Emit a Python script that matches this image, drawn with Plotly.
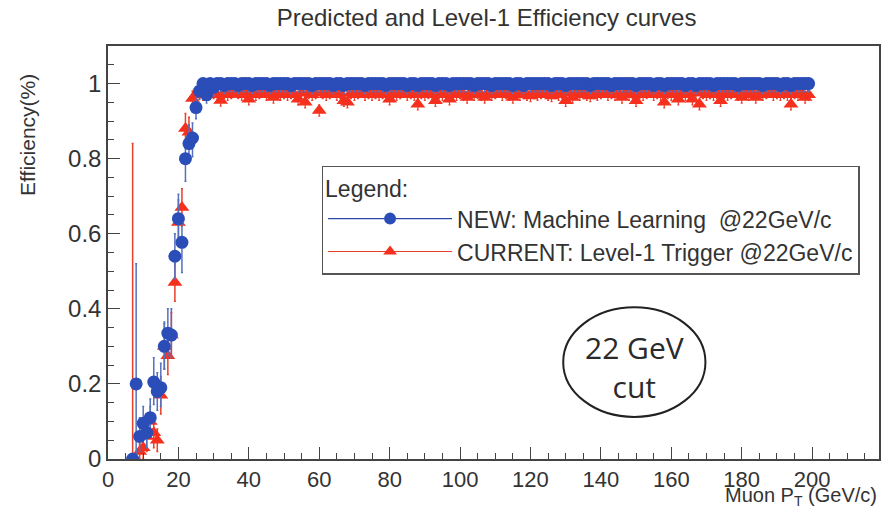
import plotly.graph_objects as go

# ---------------- data ----------------
PT = [
    7, 8, 9, 10, 11, 12, 13, 14, 15, 16, 17, 18, 19, 20, 21, 22, 23, 24, 25,
    26, 27, 28, 29, 30, 31, 32, 33, 34, 35,
    36, 37, 38, 39, 40, 41, 42, 43, 44, 45,
    46, 47, 48, 49, 50, 51, 52, 53, 54, 55,
    56, 57, 58, 59, 60, 61, 62, 63, 64, 65,
    66, 67, 68, 69, 70, 71, 72, 73, 74, 75,
    76, 77, 78, 79, 80, 81, 82, 83, 84, 85,
    86, 87, 88, 89, 90, 91, 92, 93, 94, 95,
    96, 97, 98, 99, 100, 101, 102, 103, 104, 105,
    106, 107, 108, 109, 110, 111, 112, 113, 114, 115,
    116, 117, 118, 119, 120, 121, 122, 123, 124, 125,
    126, 127, 128, 129, 130, 131, 132, 133, 134, 135,
    136, 137, 138, 139, 140, 141, 142, 143, 144, 145,
    146, 147, 148, 149, 150, 151, 152, 153, 154, 155,
    156, 157, 158, 159, 160, 161, 162, 163, 164, 165,
    166, 167, 168, 169, 170, 171, 172, 173, 174, 175,
    176, 177, 178, 179, 180, 181, 182, 183, 184, 185,
    186, 187, 188, 189, 190, 191, 192, 193, 194, 195,
    196, 197, 198, 199,
]

# NEW: Machine Learning efficiency
EFF_ML = [
    0.0, 0.20, 0.06, 0.095, 0.07, 0.11, 0.205, 0.18, 0.19, 0.30, 0.335, 0.33,
    0.54, 0.64, 0.577, 0.80, 0.84, 0.855, 0.936,
    0.98, 1.0, 0.97, 1.0, 0.99, 1.0, 1.0, 0.995, 1.0, 1.0,
    1.0, 0.995, 1.0, 1.0, 1.0, 0.995, 1.0, 1.0, 1.0, 1.0,
    0.995, 1.0, 1.0, 1.0, 1.0, 1.0, 0.995, 1.0, 1.0, 1.0,
    1.0, 1.0, 0.995, 1.0, 1.0, 1.0, 1.0, 1.0, 0.995, 1.0,
    1.0, 0.995, 1.0, 1.0, 1.0, 1.0, 1.0, 0.995, 1.0, 1.0,
    1.0, 1.0, 1.0, 0.995, 1.0, 1.0, 1.0, 1.0, 1.0, 0.995,
    1.0, 1.0, 0.995, 1.0, 1.0, 1.0, 1.0, 0.995, 1.0, 1.0,
    1.0, 0.995, 1.0, 1.0, 1.0, 1.0, 1.0, 1.0, 0.995, 1.0,
    1.0, 1.0, 1.0, 0.995, 1.0, 1.0, 1.0, 1.0, 1.0, 0.995,
    1.0, 1.0, 0.995, 1.0, 1.0, 1.0, 1.0, 1.0, 1.0, 1.0,
    0.995, 1.0, 1.0, 1.0, 0.995, 1.0, 1.0, 1.0, 1.0, 1.0,
    1.0, 0.995, 1.0, 1.0, 1.0, 1.0, 1.0, 0.995, 1.0, 1.0,
    1.0, 1.0, 1.0, 1.0, 0.995, 1.0, 1.0, 1.0, 1.0, 0.995,
    1.0, 1.0, 0.995, 1.0, 1.0, 1.0, 1.0, 1.0, 0.995, 1.0,
    1.0, 0.995, 1.0, 1.0, 1.0, 1.0, 0.995, 1.0, 1.0, 1.0,
    1.0, 1.0, 1.0, 0.995, 1.0, 1.0, 1.0, 1.0, 1.0, 1.0,
    0.995, 1.0, 1.0, 1.0, 1.0, 0.995, 1.0, 1.0, 0.995, 1.0,
    1.0, 1.0, 1.0, 1.0,
]

# CURRENT: Level-1 Trigger efficiency
EFF_L1 = [
    0.0, None, 0.02, 0.03, 0.06, 0.10, 0.07, 0.05, 0.17, 0.30, 0.275, 0.33,
    0.47, 0.63, 0.67, 0.88, 0.87, 0.96, 0.97,
    0.975, 0.97, 0.975, 0.98, 0.975, 0.97, 0.955, 0.975, 0.97, 0.975,
    0.98, 0.975, 0.97, 0.975, 0.958, 0.975, 0.97, 0.975, 0.98, 0.97,
    0.975, 0.963, 0.975, 0.97, 0.975, 0.97, 0.975, 0.97, 0.958, 0.975,
    0.95, 0.975, 0.97, 0.975, 0.928, 0.975, 0.97, 0.975, 0.98, 0.97,
    0.975, 0.954, 0.95, 0.975, 0.97, 0.975, 0.98, 0.97, 0.975, 0.97,
    0.975, 0.97, 0.975, 0.97, 0.958, 0.975, 0.97, 0.975, 0.98, 0.97,
    0.975, 0.97, 0.945, 0.975, 0.97, 0.975, 0.97, 0.954, 0.975, 0.97,
    0.975, 0.958, 0.975, 0.97, 0.975, 0.97, 0.963, 0.975, 0.97, 0.975,
    0.97, 0.963, 0.975, 0.97, 0.975, 0.98, 0.97, 0.975, 0.97, 0.963,
    0.975, 0.97, 0.975, 0.97, 0.967, 0.975, 0.97, 0.975, 0.98, 0.97,
    0.967, 0.975, 0.97, 0.975, 0.954, 0.975, 0.963, 0.975, 0.97, 0.975,
    0.97, 0.967, 0.975, 0.97, 0.975, 0.98, 0.97, 0.975, 0.97, 0.975,
    0.963, 0.975, 0.97, 0.975, 0.954, 0.975, 0.97, 0.975, 0.98, 0.97,
    0.975, 0.97, 0.95, 0.975, 0.97, 0.975, 0.958, 0.975, 0.97, 0.975,
    0.958, 0.975, 0.945, 0.975, 0.97, 0.975, 0.97, 0.975, 0.954, 0.975,
    0.97, 0.975, 0.98, 0.97, 0.963, 0.975, 0.97, 0.975, 0.963, 0.975,
    0.97, 0.975, 0.98, 0.97, 0.975, 0.97, 0.975, 0.97, 0.945, 0.975,
    0.97, 0.975, 0.963, 0.97,
]

# error bars in the turn-on region (first 19 bins)
ML_ERR_UP = [0.0, 0.32, 0.05, 0.045, 0.05, 0.05, 0.065, 0.05, 0.065, 0.065,
             0.065, 0.07, 0.06, 0.065, 0.07, 0.05, 0.05, 0.04, 0.03]
ML_ERR_DN = [0.0, 0.20, 0.04, 0.04, 0.04, 0.04, 0.06, 0.05, 0.05, 0.06,
             0.06, 0.06, 0.06, 0.06, 0.08, 0.06, 0.05, 0.05, 0.03]
L1_ERR_UP = [0.84, 0.0, 0.02, 0.03, 0.04, 0.04, 0.04, 0.03, 0.05, 0.06,
             0.05, 0.06, 0.05, 0.06, 0.05, 0.04, 0.04, 0.02, 0.02]
L1_ERR_DN = [0.0, 0.0, 0.02, 0.03, 0.04, 0.04, 0.04, 0.03, 0.05, 0.06,
             0.05, 0.06, 0.05, 0.06, 0.05, 0.04, 0.04, 0.03, 0.02]
N_TURNON = 19

X_TICKS = [0, 20, 40, 60, 80, 100, 120, 140, 160, 180, 200]
Y_TICKS = [0, 0.2, 0.4, 0.6, 0.8, 1]

NAME_ML = "NEW: Machine Learning \u00a0@22GeV/c"
NAME_L1 = "CURRENT: Level-1 Trigger @22GeV/c"

# ---------------- style ----------------
FONT = "Liberation Sans, Arial, Helvetica, sans-serif"
TXT = "#333333"
BLUE = "#2A4DB8"
BLUE_ERR = "#5571BE"
RED = "#F5301E"
RED_ERR = "#E8402A"

fig = go.Figure()

# Level-1 (red triangles)
fig.add_trace(go.Scatter(
    x=PT[:N_TURNON], y=EFF_L1[:N_TURNON], mode="markers", showlegend=False,
    marker=dict(symbol="triangle-up", size=13, color=RED),
    error_y=dict(type="data", symmetric=False, array=L1_ERR_UP,
                 arrayminus=L1_ERR_DN, color=RED_ERR, thickness=1.5, width=1),
))
fig.add_trace(go.Scatter(
    x=PT[N_TURNON:], y=EFF_L1[N_TURNON:], mode="markers", showlegend=False,
    marker=dict(symbol="triangle-up", size=13, color=RED),
    error_y=dict(type="constant", value=0.015, color=RED_ERR,
                 thickness=1.2, width=1),
))
# Machine learning (blue circles)
fig.add_trace(go.Scatter(
    x=PT[:N_TURNON], y=EFF_ML[:N_TURNON], mode="markers", showlegend=False,
    marker=dict(symbol="circle", size=13, color=BLUE),
    error_y=dict(type="data", symmetric=False, array=ML_ERR_UP,
                 arrayminus=ML_ERR_DN, color=BLUE_ERR, thickness=1.5, width=1),
))
fig.add_trace(go.Scatter(
    x=PT[N_TURNON:], y=EFF_ML[N_TURNON:], mode="markers", showlegend=False,
    marker=dict(symbol="circle", size=13, color=BLUE),
    error_y=dict(type="constant", symmetric=False, value=0.0, valueminus=0.022,
                 color=BLUE_ERR, thickness=1.2, width=1),
))

# legend entries
fig.add_trace(go.Scatter(
    x=[None], y=[None], mode="lines+markers", name=NAME_ML,
    line=dict(color="#2C48A8", width=1.2),
    marker=dict(symbol="circle", size=12, color=BLUE),
))
fig.add_trace(go.Scatter(
    x=[None], y=[None], mode="lines+markers", name=NAME_L1,
    line=dict(color=RED_ERR, width=1.2),
    marker=dict(symbol="triangle-up", size=12, color=RED),
))

# ---------------- layout ----------------
axis_common = dict(
    showline=True, mirror=True, linecolor="#444444", linewidth=1.5,
    showgrid=False, zeroline=False, ticks="inside", tickcolor="#444444",
    tickwidth=1.2, ticklen=12,
)

fig.update_layout(
    width=883, height=507,
    margin=dict(l=108, r=2, t=46, b=48),
    paper_bgcolor="white", plot_bgcolor="white",
    font=dict(family=FONT, color=TXT, size=20),
    title=dict(text="Predicted and Level-1 Efficiency curves",
               x=0.551, xanchor="center", y=0.966, yanchor="middle",
               font=dict(family=FONT, size=24, color=TXT)),
    xaxis=dict(range=[0, 219], tickvals=X_TICKS,
               tickfont=dict(family=FONT, size=22, color=TXT),
               minor=dict(dtick=5, tick0=0, ticks="inside", ticklen=6,
                          tickcolor="#444444", tickwidth=1.2),
               **axis_common),
    yaxis=dict(range=[0, 1.1], tickvals=Y_TICKS,
               tickfont=dict(family=FONT, size=24, color=TXT),
               minor=dict(dtick=0.05, tick0=0, ticks="inside", ticklen=6,
                          tickcolor="#444444", tickwidth=1.2),
               **axis_common),
    legend=dict(x=0.277, y=0.71, xanchor="left", yanchor="top",
                bgcolor="white", bordercolor="#555555", borderwidth=1.5,
                font=dict(family=FONT, size=23, color=TXT),
                title=dict(text="Legend:", font=dict(family=FONT, size=23, color=TXT)),
                itemwidth=124, tracegroupgap=0),
    showlegend=True,
)

# axis titles placed like ROOT (at the ends of the axes)
fig.add_annotation(text="Efficiency(%)", textangle=-90, xref="paper", yref="paper",
                   x=-0.1036, y=0.785, xanchor="center", yanchor="middle",
                   showarrow=False, font=dict(family=FONT, size=21, color=TXT))
fig.add_annotation(text="Muon P<sub>T</sub> (GeV/c)", xref="paper", yref="paper",
                   x=1.0, y=-0.092, xanchor="right", yanchor="middle",
                   showarrow=False, font=dict(family=FONT, size=20, color=TXT))

# "22 GeV cut" ellipse annotation
fig.add_shape(type="circle", xref="x", yref="y", x0=129.3, x1=169.7,
              y0=0.112, y1=0.404, line=dict(color="#222222", width=2))
fig.add_annotation(text="22 GeV<br>cut", xref="x", yref="y", x=149.5, y=0.246,
                   showarrow=False, align="center",
                   font=dict(family="Open Sans, Noto Sans, sans-serif", size=30, color="#2a2a2a"))

fig.write_html("out.html")
